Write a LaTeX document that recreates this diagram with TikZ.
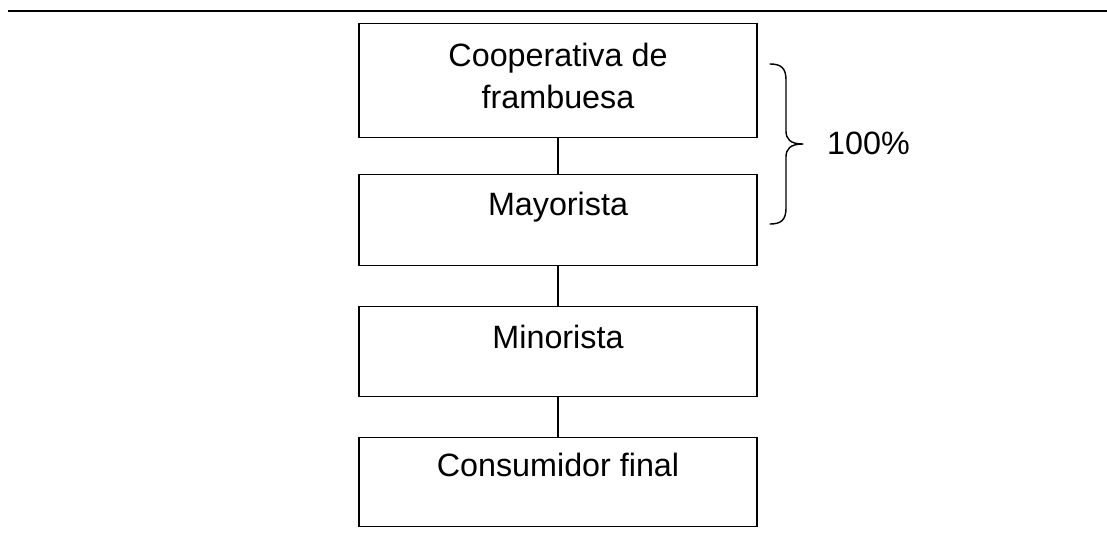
\documentclass[tikz,border=0pt]{standalone}
\usepackage{fontspec}
\setmainfont{Liberation Sans}
\begin{document}
\begin{tikzpicture}[x=1pt,y=-1pt,
  stepbox/.style={draw,line width=1.3pt,minimum width=398pt,inner sep=0pt,anchor=north,align=center},
  lbl/.style={font=\fontsize{32.3}{42}\selectfont,align=center,inner sep=0pt},
  conn/.style={line width=1.3pt}]
\useasboundingbox (0,0) rectangle (1107,533);
\draw[conn] (8,11) coordinate (l1) -- (1107,11) coordinate (l2);
\node[stepbox,minimum height=114pt] (b1) at (558,23) {};
\node[stepbox,minimum height=91pt] (b2) at (558,174) {};
\node[stepbox,minimum height=90pt] (b3) at (558,306) {};
\node[stepbox,minimum height=89pt] (b4) at (558,437) {};
\node[lbl] (t1) at (558,76) {Cooperativa de\\frambuesa};
\node[lbl] (t2) at (558,207) {Mayorista};
\node[lbl] (t3) at (558,337) {Minorista};
\node[lbl] (t4) at (558,465) {Consumidor final};
\draw[conn] (b1.south) -- (b2.north);
\draw[conn] (b2.south) -- (b3.north);
\draw[conn] (b3.south) -- (b4.north);
\coordinate (bt) at (770,64);
\coordinate (tip) at (803,144);
\coordinate (bb) at (770,224);
\draw[line width=1.4pt,line cap=round,line join=round]
  (bt) .. controls (781,64) and (786,68) .. (786,80)
  -- (786,131) .. controls (786,139) and (790,144) .. (tip)
  .. controls (790,144) and (786,149) .. (786,157)
  -- (786,208) .. controls (786,220) and (781,224) .. (bb);
\node[lbl,anchor=west] (pct) at (827,143) {100\%};
\end{tikzpicture}
\end{document}
